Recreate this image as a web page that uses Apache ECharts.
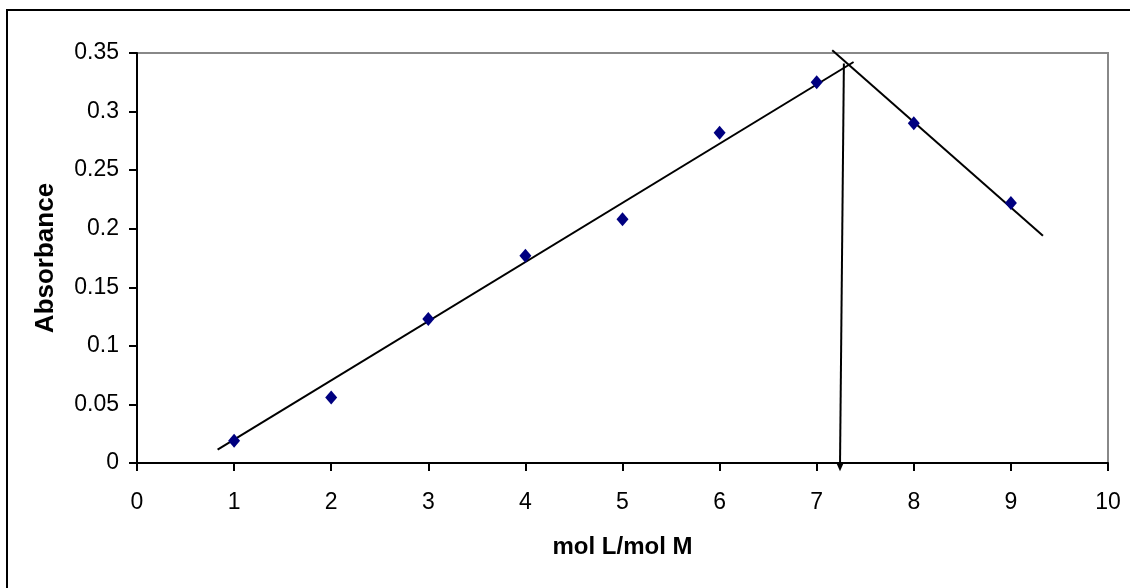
<!DOCTYPE html>
<html>
<head>
<meta charset="utf-8">
<script src="https://cdn.jsdelivr.net/npm/echarts@6/dist/echarts.min.js"></script>
<style>
html,body{margin:0;padding:0;background:#fff;}
#frame{position:absolute;left:6px;top:9px;width:1130px;height:600px;border-left:2px solid #000;border-top:2px solid #000;box-sizing:border-box;}
#chart{position:absolute;left:0;top:0;width:1130px;height:588px;}
</style>
</head>
<body>
<div id="frame"></div>
<div id="chart"></div>
<script>
// Data
const xValues = [1, 2, 3, 4, 5, 6, 7, 8, 9];
const absorbance = [0.019, 0.056, 0.123, 0.177, 0.208, 0.282, 0.325, 0.290, 0.222];
// Hand-drawn fit lines (endpoints in data units)
const risingLine = [[0.83, 0.0114], [7.38, 0.3423]];
const fallingLine = [[7.16, 0.3524], [9.33, 0.194]];
const arrowLine = [[7.28, 0.341], [7.24, -0.002]];

const font = '"Liberation Sans", Arial, sans-serif';
const chart = echarts.init(document.getElementById('chart'), null, {renderer: 'canvas'});
chart.setOption({
  animation: false,
  backgroundColor: 'transparent',
  grid: {left: 137, right: 22, top: 53, bottom: 125, show: true, borderColor: '#888', borderWidth: 2, backgroundColor: '#fff'},
  xAxis: {
    type: 'value', min: 0, max: 10, interval: 1,
    name: 'mol L/mol M', nameLocation: 'middle', nameGap: 72,
    nameTextStyle: {fontFamily: font, fontSize: 24, fontWeight: 'bold', color: '#000'},
    axisLine: {show: true, onZero: false, lineStyle: {color: '#000', width: 2}},
    axisTick: {show: true, length: 8, lineStyle: {color: '#000', width: 2}},
    axisLabel: {fontFamily: font, fontSize: 23, color: '#000', margin: 28},
    splitLine: {show: false}
  },
  yAxis: {
    type: 'value', min: 0, max: 0.35, interval: 0.05,
    name: 'Absorbance', nameLocation: 'middle', nameGap: 78,
    nameTextStyle: {fontFamily: font, fontSize: 26, fontWeight: 'bold', color: '#000'},
    axisLine: {show: true, onZero: false, lineStyle: {color: '#000', width: 2}},
    axisTick: {show: true, length: 8, lineStyle: {color: '#000', width: 2}},
    axisLabel: {fontFamily: font, fontSize: 23, color: '#000', margin: 18,
      formatter: v => String(Math.round(v * 100) / 100)},
    splitLine: {show: false}
  },
  series: [
    {type: 'line', data: risingLine, symbol: 'none', clip: false, lineStyle: {color: '#000', width: 2}, z: 2},
    {type: 'line', data: fallingLine, symbol: 'none', clip: false, lineStyle: {color: '#000', width: 2}, z: 2},
    {type: 'line', clip: false, showSymbol: true, showAllSymbol: true, z: 4,
      lineStyle: {color: '#000', width: 2}, itemStyle: {color: '#000', borderWidth: 0},
      data: [
        {value: arrowLine[0], symbol: 'none'},
        {value: arrowLine[1], symbol: 'triangle', symbolRotate: 180, symbolSize: [7, 8], symbolOffset: [0, 2]}
      ]},
    {type: 'scatter', data: xValues.map((x, i) => [x, absorbance[i]]), symbol: 'diamond', symbolSize: [12, 14],
      itemStyle: {color: '#000080', opacity: 1}, z: 3}
  ]
});
</script>
</body>
</html>
